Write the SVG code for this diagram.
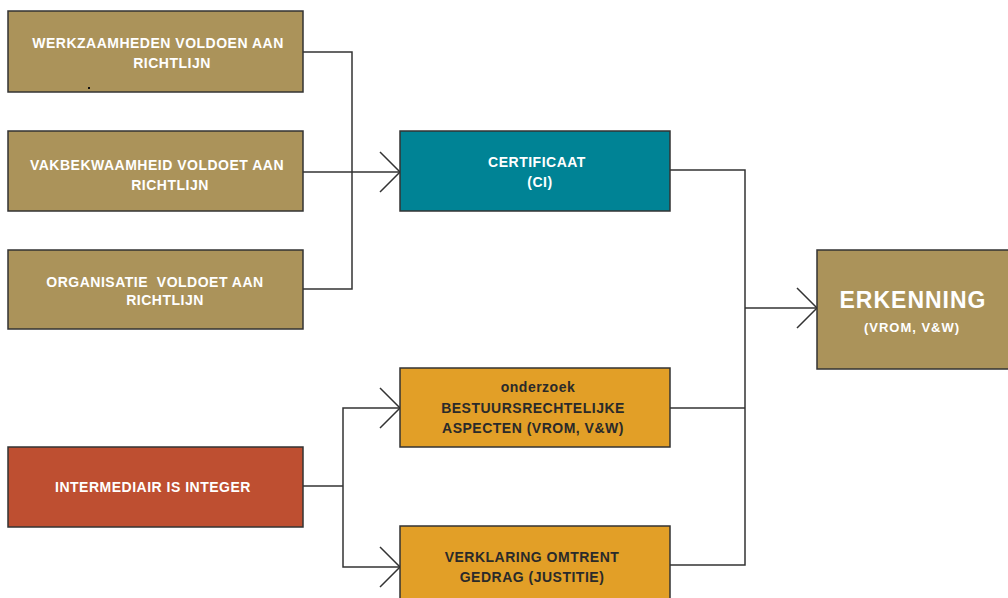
<svg xmlns="http://www.w3.org/2000/svg" width="1008" height="598" viewBox="0 0 1008 598">
<style>
.box{stroke:#333;stroke-width:1.5}
.tan{fill:#AB935A}
.teal{fill:#008395}
.red{fill:#BE4F31}
.orange{fill:#E29F27}
text{font-family:"Liberation Sans",Arial,sans-serif;font-weight:bold;text-anchor:middle}
.w{fill:#fff;font-size:14px;letter-spacing:0.5px}
.d{fill:#2a2a2a;font-size:14px;letter-spacing:0.5px}
.big{fill:#fff;font-size:23px;letter-spacing:1px}
.sm{fill:#fff;font-size:13px;letter-spacing:1px}
.conn{fill:none;stroke:#333;stroke-width:1.5}
</style>
<rect width="1008" height="598" fill="#fff"/>
<g id="connectors" class="conn">
<polyline points="303,52 352,52 352,289 303,289"/>
<line x1="303" y1="172" x2="400" y2="172"/>
<polyline points="380,152 400,172 380,192"/>
<polyline points="670,170 745,170 745,565 670,565"/>
<line x1="670" y1="408" x2="745" y2="408"/>
<line x1="745" y1="308" x2="817" y2="308"/>
<polyline points="797,288 817,308 797,328"/>
<line x1="303" y1="486" x2="343" y2="486"/>
<polyline points="400,408 343,408 343,567 400,567"/>
<polyline points="380,388 400,408 380,428"/>
<polyline points="380,547 400,567 380,587"/>
</g>
<g id="werkzaamheden">
<rect class="box tan" x="8" y="11" width="295" height="81"/>
<text class="w" x="158" y="48">WERKZAAMHEDEN VOLDOEN AAN</text>
<text class="w" x="172" y="68">RICHTLIJN</text>
<rect x="88" y="87" width="2" height="2" fill="#111"/>
</g>
<g id="vakbekwaamheid">
<rect class="box tan" x="8" y="131" width="295" height="80"/>
<text class="w" x="157" y="170">VAKBEKWAAMHEID VOLDOET AAN</text>
<text class="w" x="170" y="190">RICHTLIJN</text>
</g>
<g id="organisatie">
<rect class="box tan" x="8" y="250" width="295" height="79"/>
<text class="w" x="155" y="287" xml:space="preserve">ORGANISATIE  VOLDOET AAN</text>
<text class="w" x="165" y="305">RICHTLIJN</text>
</g>
<g id="certificaat">
<rect class="box teal" x="400" y="131" width="270" height="80"/>
<text class="w" x="537" y="167">CERTIFICAAT</text>
<text class="w" x="540" y="187">(CI)</text>
</g>
<g id="erkenning">
<rect class="box tan" x="817" y="250" width="200" height="119"/>
<text class="big" x="913" y="308">ERKENNING</text>
<text class="sm" x="912" y="332">(VROM, V&amp;W)</text>
</g>
<g id="intermediair">
<rect class="box red" x="8" y="447" width="295" height="80"/>
<text class="w" x="153" y="492">INTERMEDIAIR IS INTEGER</text>
</g>
<g id="bestuursrechtelijk">
<rect class="box orange" x="400" y="368" width="270" height="79"/>
<text class="d" x="538" y="392">onderzoek</text>
<text class="d" x="533" y="413">BESTUURSRECHTELIJKE</text>
<text class="d" x="533" y="433">ASPECTEN (VROM, V&amp;W)</text>
</g>
<g id="verklaring">
<rect class="box orange" x="400" y="526" width="270" height="80"/>
<text class="d" x="532" y="562">VERKLARING OMTRENT</text>
<text class="d" x="532" y="582">GEDRAG (JUSTITIE)</text>
</g>
</svg>
